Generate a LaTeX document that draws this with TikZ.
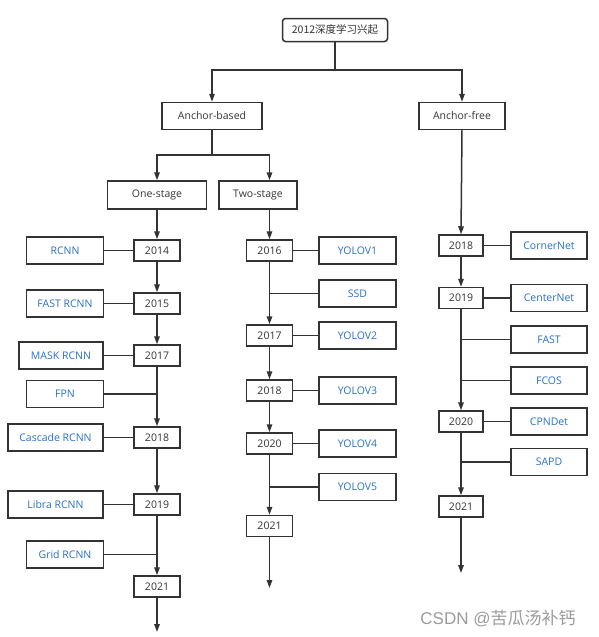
\documentclass[tikz,border=0pt]{standalone}
\usepackage{fontspec}
\setmainfont{Open Sans}
\newfontfamily\cjk{Noto Sans CJK SC}
\newfontfamily\marksans{Liberation Sans}
\usepackage{tikz}
\usetikzlibrary{arrows.meta}
\definecolor{linegray}{RGB}{51,51,51}
\definecolor{nameblue}{RGB}{40,112,196}
\definecolor{markgray}{RGB}{155,155,155}

\begin{document}
\begin{tikzpicture}[x=1pt,y=-1pt]
\tikzstyle{headbox}=[rectangle, draw=linegray, line width=1.5pt, text=linegray,
    minimum height=27pt, inner sep=0pt, font=\fontsize{10.5}{12}\selectfont]
\tikzstyle{yearbox}=[rectangle, draw=linegray, line width=1.5pt, text=linegray,
    minimum width=46pt, minimum height=21pt, inner sep=0pt, font=\fontsize{10.5}{12}\selectfont]
\tikzstyle{namebox}=[rectangle, draw=linegray, line width=1.5pt, text=nameblue,
    minimum width=77pt, minimum height=27pt, inner sep=0pt, font=\fontsize{10.5}{12}\selectfont]
\tikzstyle{link}=[draw=linegray, line width=1.5pt]
\tikzstyle{arr}=[link, -{Triangle[length=8pt,width=5.5pt]}]

\useasboundingbox (0,0) rectangle (599,637);

\node[headbox, rounded corners=3pt, minimum width=105pt, minimum height=23pt] (root) at (335,30) {\cjk 2012深度学习兴起};
\node[headbox, minimum width=100pt] (based) at (212,116) {Anchor-based};
\node[headbox, minimum width=86pt] (free) at (462,116) {Anchor-free};
\node[headbox, minimum width=99pt, minimum height=28pt] (one) at (157,195) {One-stage};
\node[headbox, minimum width=78pt, minimum height=28pt] (two) at (258,195) {Two-stage};

\node[yearbox] (o14) at (157,250.5) {2014};
\node[yearbox] (o15) at (157,303.5) {2015};
\node[yearbox] (o17) at (157,355.5) {2017};
\node[yearbox] (o18) at (157,437.5) {2018};
\node[yearbox] (o19) at (157,504.5) {2019};
\node[yearbox] (o21) at (157,586.5) {2021};

\node[namebox] (rcnn) at (65,250.5) {RCNN};
\node[namebox] (fastr) at (65,303.5) {FAST RCNN};
\node[namebox, minimum width=84pt] (mask) at (61,355.5) {MASK RCNN};
\node[namebox] (fpn) at (65,394) {FPN};
\node[namebox, minimum width=95pt] (cascade) at (55.5,437.5) {Cascade RCNN};
\node[namebox, minimum width=95pt] (libra) at (55.5,504.5) {Libra RCNN};
\node[namebox] (grid) at (65,554.5) {Grid RCNN};

\node[yearbox] (t16) at (269.5,250.5) {2016};
\node[yearbox] (t17) at (269.5,335.5) {2017};
\node[yearbox] (t18) at (269.5,390.5) {2018};
\node[yearbox] (t20) at (269.5,443.5) {2020};
\node[yearbox] (t21) at (269.5,526) {2021};

\node[namebox] (yolo1) at (357.5,250.5) {YOLOV1};
\node[namebox] (ssd) at (357.5,293.5) {SSD};
\node[namebox] (yolo2) at (357.5,335.5) {YOLOV2};
\node[namebox] (yolo3) at (357.5,390.5) {YOLOV3};
\node[namebox] (yolo4) at (357.5,443.5) {YOLOV4};
\node[namebox] (yolo5) at (357.5,487) {YOLOV5};

\node[yearbox, minimum width=44pt] (f18) at (461,245.5) {2018};
\node[yearbox, minimum width=44pt] (f19) at (461,298) {2019};
\node[yearbox, minimum width=44pt] (f20) at (461,421.5) {2020};
\node[yearbox, minimum width=44pt] (f21) at (461,506.5) {2021};

\node[namebox, minimum width=76pt] (corner) at (549,245.5) {CornerNet};
\node[namebox, minimum width=76pt] (center) at (549,298) {CenterNet};
\node[namebox, minimum width=76pt] (fastf) at (549,339.5) {FAST};
\node[namebox, minimum width=76pt] (fcos) at (549,380.5) {FCOS};
\node[namebox, minimum width=76pt] (cpn) at (549,421.5) {CPNDet};
\node[namebox, minimum width=76pt] (sapd) at (549,462) {SAPD};

\node[text=markgray, font=\marksans\fontsize{17}{20}\selectfont] (mark) at (498,619) {CSDN @{\cjk 苦瓜汤补钙}};

\coordinate (s1) at (root.south |- 0,70);
\coordinate (s2) at (based.south |- 0,155);
\coordinate (e1) at (157,632);
\coordinate (e2) at (269.5,588);
\coordinate (e3) at (461,573);

\draw[link] (root.south) -- (s1);
\draw[arr] (s1) -| (based.north);
\draw[arr] (s1) -| (free.north);
\draw[link] (based.south) -- (s2);
\draw[arr] (s2) -| (one.north);
\draw[arr] (s2) -| (t16 |- two.north);

\draw[arr] (one.south) -- (o14.north);
\draw[arr] (o14) -- (o15);
\draw[arr] (o15) -- (o17);
\draw[arr] (o17) -- (o18);
\draw[arr] (o18) -- (o19);
\draw[arr] (o19) -- (o21);
\draw[arr] (o21) -- (e1);

\draw[link] (rcnn) -- (o14);
\draw[link] (fastr) -- (o15);
\draw[link] (mask) -- (o17);
\draw[link] (fpn.east) -- (fpn.east -| o17.south);
\draw[link] (cascade) -- (o18);
\draw[link] (libra) -- (o19);
\draw[link] (grid.east) -- (grid.east -| o19.south);

\draw[arr] (t16 |- two.south) -- (t16.north);
\draw[arr] (t16) -- (t17);
\draw[arr] (t17) -- (t18);
\draw[arr] (t18) -- (t20);
\draw[arr] (t20) -- (t21);
\draw[arr] (t21) -- (e2);

\draw[link] (yolo1) -- (t16);
\draw[link] (ssd.west) -- (ssd.west -| t16.south);
\draw[link] (yolo2) -- (t17);
\draw[link] (yolo3) -- (t18);
\draw[link] (yolo4) -- (t20);
\draw[link] (yolo5.west) -- (yolo5.west -| t20.south);

\draw[arr] (free.south) -- (f18.north);
\draw[arr] (f18) -- (f19);
\draw[arr] (f19) -- (f20);
\draw[arr] (f20) -- (f21);
\draw[arr] (f21) -- (e3);

\draw[link] (corner) -- (f18);
\draw[link] (center) -- (f19);
\draw[link] (fastf.west) -- (fastf.west -| f19.south);
\draw[link] (fcos.west) -- (fcos.west -| f19.south);
\draw[link] (cpn) -- (f20);
\draw[link] (sapd.west) -- (sapd.west -| f20.south);
\end{tikzpicture}
\end{document}
